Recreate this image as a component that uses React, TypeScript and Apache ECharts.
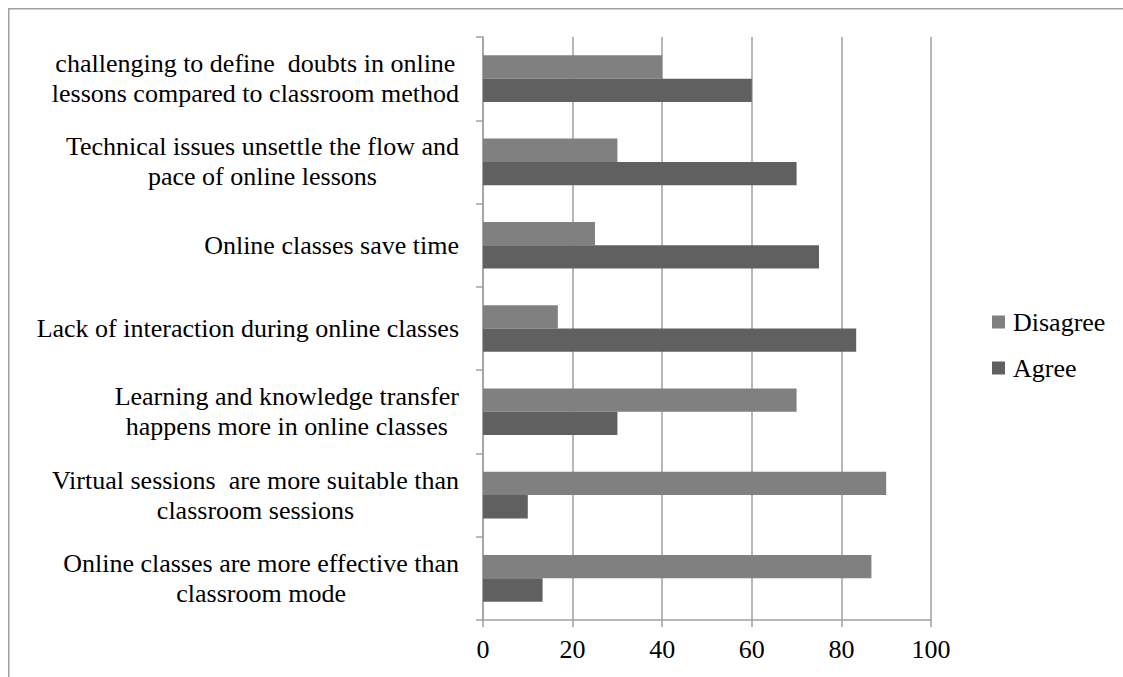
import React, { useEffect, useRef } from "react";
import * as echarts from "echarts";

// Categories listed bottom-to-top (ECharts category y-axis grows upward)
const categories: string[][] = [
  ["Online classes are more effective than", "classroom mode"],
  ["Virtual sessions  are more suitable than", "classroom sessions"],
  ["Learning and knowledge transfer", "happens more in online classes"],
  ["Lack of interaction during online classes"],
  ["Online classes save time"],
  ["Technical issues unsettle the flow and", "pace of online lessons"],
  ["challenging to define  doubts in online", "lessons compared to classroom method"],
];

const agreeValues: number[] = [13.3, 10, 30, 83.3, 75, 70, 60];
const disagreeValues: number[] = [86.7, 90, 70, 16.7, 25, 30, 40];

const xTicks = { min: 0, max: 100, interval: 20 };

const FONT = "Times New Roman, Liberation Serif, DejaVu Serif, serif";
const GRID_COLOR = "#a0a0a0";

export default function App() {
  const ref = useRef<HTMLDivElement>(null);

  useEffect(() => {
    document.body.style.margin = "0";
    if (!ref.current) return;
    const chart = echarts.init(ref.current, null, { renderer: "svg" });
    const catNames = categories.map((c) => c.join("\n"));
    chart.setOption({
      animation: false,
      backgroundColor: "#ffffff",
      textStyle: { fontFamily: FONT, color: "#000" },
      graphic: [
        {
          type: "line",
          shape: { x1: 8, y1: 8.75, x2: 1123, y2: 8.75 },
          style: { stroke: GRID_COLOR, lineWidth: 1.5 },
          silent: true,
        },
        {
          type: "line",
          shape: { x1: 8.75, y1: 8, x2: 8.75, y2: 677 },
          style: { stroke: GRID_COLOR, lineWidth: 1.5 },
          silent: true,
        },
      ],
      grid: { left: 483, right: 192, top: 37, bottom: 57, containLabel: false },
      legend: {
        orient: "vertical",
        left: 992,
        top: 309,
        padding: 0,
        itemWidth: 13,
        itemHeight: 13,
        itemGap: 20,
        icon: "rect",
        data: ["Disagree", "Agree"],
        textStyle: {
          fontFamily: FONT,
          fontSize: 26,
          lineHeight: 26,
          color: "#000",
          padding: [0, 0, 0, 3],
        },
      },
      xAxis: {
        type: "value",
        min: xTicks.min,
        max: xTicks.max,
        interval: xTicks.interval,
        axisLine: { show: true, lineStyle: { color: GRID_COLOR, width: 1.5 } },
        axisTick: { show: true, length: 7, lineStyle: { color: GRID_COLOR, width: 1.5 } },
        splitLine: { show: true, lineStyle: { color: GRID_COLOR, width: 1.5 } },
        axisLabel: {
          fontFamily: FONT,
          fontSize: 26,
          color: "#000",
          margin: 16,
        },
      },
      yAxis: {
        type: "category",
        data: catNames,
        axisLine: { show: true, lineStyle: { color: GRID_COLOR, width: 1.5 } },
        axisTick: { show: true, length: 7, lineStyle: { color: GRID_COLOR, width: 1.5 } },
        axisLabel: {
          margin: 24,
          align: "right",
          fontFamily: FONT,
          fontSize: 26,
          formatter: (v: string) =>
            v
              .split("\n")
              .map((line) => `{c|${line}}`)
              .join("\n"),
          rich: {
            c: {
              align: "center",
              fontFamily: FONT,
              fontSize: 26,
              lineHeight: 30,
              color: "#000",
            },
          },
        },
      },
      series: [
        {
          name: "Disagree",
          type: "bar",
          data: disagreeValues,
          barGap: "0%",
          barCategoryGap: "44%",
          itemStyle: { color: "#808080" },
        },
        {
          name: "Agree",
          type: "bar",
          data: agreeValues,
          barGap: "0%",
          barCategoryGap: "44%",
          itemStyle: { color: "#606060" },
        },
      ],
    });
    return () => chart.dispose();
  }, []);

  return <div ref={ref} style={{ width: 1123, height: 677 }} />;
}
